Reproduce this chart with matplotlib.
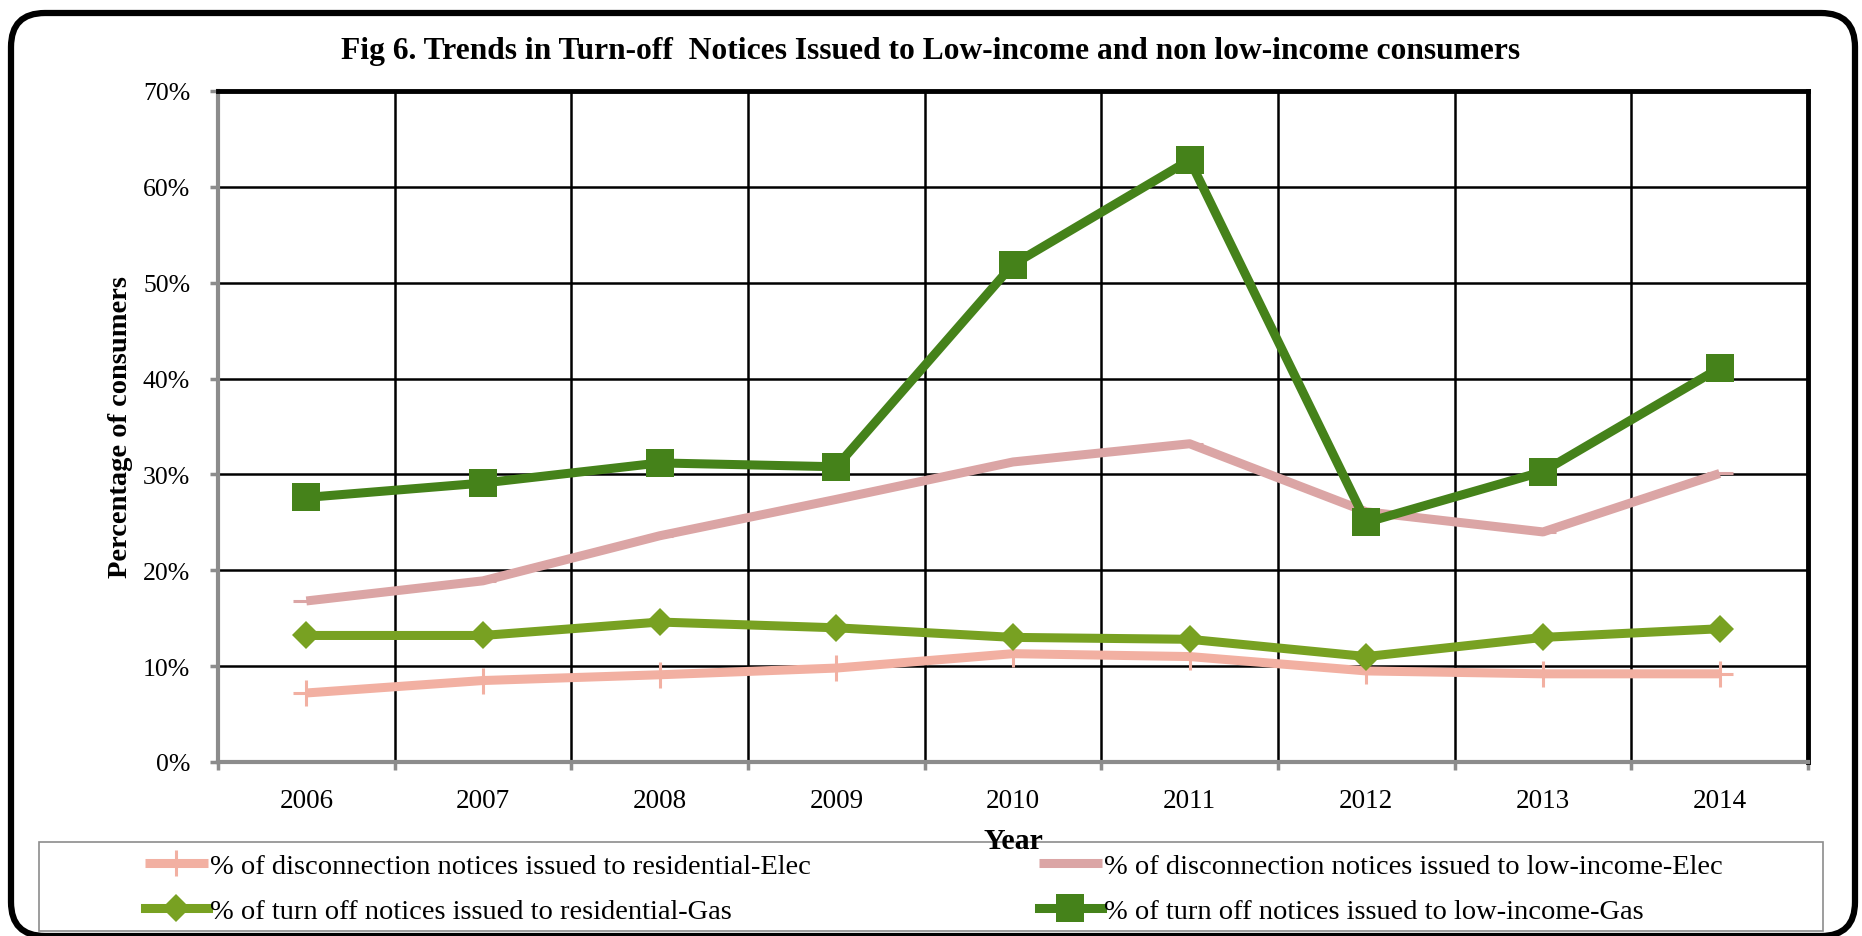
import matplotlib
matplotlib.use("Agg")
import matplotlib.pyplot as plt
from matplotlib.patches import FancyBboxPatch, Rectangle
from matplotlib.transforms import IdentityTransform
from matplotlib.ticker import FuncFormatter, MultipleLocator, FixedLocator

plt.rcParams['font.family'] = ['Liberation Serif', 'DejaVu Serif']

years = ['2006', '2007', '2008', '2009', '2010', '2011', '2012', '2013', '2014']
res_elec = [7.2, 8.5, 9.1, 9.8, 11.3, 11.0, 9.5, 9.2, 9.2]
low_elec = [16.8, 18.9, 23.6, 27.4, 31.3, 33.2, 26.1, 24.0, 30.1]
res_gas = [13.2, 13.2, 14.6, 14.0, 13.0, 12.8, 11.0, 13.0, 13.9]
low_gas = [27.6, 29.1, 31.2, 30.8, 51.9, 62.8, 25.0, 30.3, 41.1]

labels = [
    '% of disconnection notices issued to residential-Elec',
    '% of disconnection notices issued to low-income-Elec',
    '% of turn off notices issued to residential-Gas',
    '% of turn off notices issued to low-income-Gas',
]
colors = ['#F2B0A2', '#DBA5A5', '#78A122', '#45821A']

W, H = 1862, 937
fig = plt.figure(figsize=(W / 100, H / 100), dpi=100)
ax = fig.add_axes([218 / W, 1 - 763 / H, (1808 - 218) / W, (763 - 92) / H])

x = list(range(len(years)))

l1, = ax.plot(x, res_elec, color=colors[0], lw=6.5, marker='+', ms=19, mew=2.2,
              mec=colors[0], label=labels[0], zorder=3, solid_capstyle='butt')
l2, = ax.plot(x, low_elec, color=colors[1], lw=6.5, marker='_', ms=19, mew=2.2,
              mec=colors[1], label=labels[1], zorder=3, solid_capstyle='butt')
l3, = ax.plot(x, res_gas, color=colors[2], lw=6.5, marker='D', ms=14, mew=0,
              label=labels[2], zorder=4)
l4, = ax.plot(x, low_gas, color=colors[3], lw=6.5, marker='s', ms=19.5, mew=0,
              label=labels[3], zorder=5)

ax.set_xlim(-0.5, len(years) - 0.5)
ax.set_ylim(0, 70)
ax.set_xticks(x)
ax.set_xticklabels(years, fontsize=19.5)
ax.xaxis.set_minor_locator(FixedLocator([i - 0.5 for i in range(len(years) + 1)]))
ax.yaxis.set_major_locator(MultipleLocator(10))
ax.yaxis.set_major_formatter(FuncFormatter(lambda v, p: f'{v:.0f}%'))
ax.tick_params(axis='y', labelsize=18.5, length=6, width=2.5, color='#8C8C8C',
               direction='out', pad=14)
ax.tick_params(axis='x', which='major', length=0, pad=19)
ax.tick_params(axis='x', which='minor', length=6, width=2.5, color='#8C8C8C',
               direction='out')

ax.set_axisbelow(True)
ax.grid(axis='y', which='major', color='black', lw=1.8)
ax.grid(axis='x', which='minor', color='black', lw=1.8)

for side in ('left', 'bottom'):
    ax.spines[side].set_color('#8C8C8C')
    ax.spines[side].set_linewidth(3)
for side in ('top', 'right'):
    ax.spines[side].set_color('black')
    ax.spines[side].set_linewidth(3.5)

fig.text(0.5, 1 - 51 / H,
         'Fig 6. Trends in Turn-off  Notices Issued to Low-income and non low-income consumers',
         fontsize=22.7, fontweight='bold', ha='center', va='center')
ax.set_xlabel('Year', fontsize=21.5, fontweight='bold', labelpad=10)
ax.set_ylabel('Percentage of consumers', fontsize=20.5, fontweight='bold', labelpad=7)

# legend frame (behind the axes labels) and two columns of entries
fig.add_artist(Rectangle((39, H - 932), 1823 - 39, 932 - 843, transform=IdentityTransform(),
                         facecolor='white', edgecolor='#8C8C8C', lw=1.2, zorder=-1))
common = dict(frameon=False, fontsize=20.5, handlelength=2.2, handletextpad=0.08,
              labelspacing=0.66, borderpad=0, borderaxespad=0, loc='upper left')
fig.legend([l1, l3], [labels[0], labels[2]], bbox_to_anchor=(145 / W, 1 - 854 / H), **common)
fig.legend([l2, l4], [labels[1], labels[3]], bbox_to_anchor=(1039 / W, 1 - 854 / H), **common)

# rounded page border
fig.add_artist(FancyBboxPatch((11, 0), 1855 - 11, 923, boxstyle='round,pad=0,rounding_size=34',
                              transform=IdentityTransform(), facecolor='none',
                              edgecolor='black', lw=4.5, zorder=10))

fig.savefig('out.png', dpi=100)
